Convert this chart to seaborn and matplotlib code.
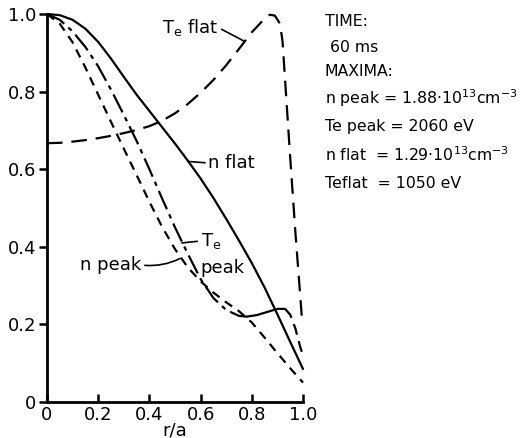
import numpy as np
import pandas as pd
import matplotlib
matplotlib.use("Agg")
import matplotlib.pyplot as plt
import seaborn as sns

# profile data (normalised to maxima)
r = [0.0, 0.05, 0.1, 0.15, 0.2, 0.25, 0.3, 0.35, 0.4, 0.45, 0.5,
     0.55, 0.6, 0.65, 0.7, 0.75, 0.8, 0.85, 0.9, 0.95, 1.0]
n_flat = [1.0, 0.997, 0.985, 0.962, 0.928, 0.885, 0.838, 0.792, 0.75, 0.708, 0.666,
          0.622, 0.576, 0.526, 0.472, 0.416, 0.358, 0.295, 0.226, 0.155, 0.085]
n_peak = [1.0, 0.975, 0.927, 0.862, 0.792, 0.722, 0.653, 0.585, 0.516, 0.451, 0.394,
          0.347, 0.311, 0.282, 0.257, 0.234, 0.205, 0.166, 0.126, 0.087, 0.05]

r_te_peak = [0.0, 0.05, 0.1, 0.15, 0.2, 0.25, 0.3, 0.35, 0.4, 0.45, 0.5, 0.55,
             0.6, 0.65, 0.7, 0.75, 0.78, 0.82, 0.86, 0.9, 0.93, 0.95, 0.97, 0.99, 1.0]
te_peak = [1.0, 0.985, 0.955, 0.915, 0.865, 0.805, 0.74, 0.673, 0.6, 0.524, 0.45, 0.382,
           0.317, 0.268, 0.237, 0.222, 0.22, 0.224, 0.232, 0.24, 0.24, 0.225, 0.19, 0.14, 0.12]

r_te_flat = [0.0, 0.05, 0.1, 0.15, 0.2, 0.25, 0.3, 0.35, 0.4, 0.45, 0.5, 0.55, 0.6,
             0.65, 0.7, 0.75, 0.8, 0.85, 0.87, 0.89, 0.91, 0.92, 0.95, 0.97, 0.996]
te_flat = [0.667, 0.668, 0.671, 0.675, 0.68, 0.686, 0.693, 0.701, 0.711, 0.725, 0.744, 0.768, 0.797,
           0.83, 0.868, 0.91, 0.953, 0.988, 0.998, 0.996, 0.975, 0.93, 0.63, 0.44, 0.214]

info_lines = ["TIME:", " 60 ms", "MAXIMA:",
              r"n peak = 1.88$\cdot$10$^{13}$cm$^{-3}$",
              "Te peak = 2060 eV",
              r"n flat  = 1.29$\cdot$10$^{13}$cm$^{-3}$",
              "Teflat  = 1050 eV"]

sns.set_style("ticks")
plt.rcParams['font.family'] = ['DejaVu Sans']
k = "black"
plt.rcParams.update({"text.color": k, "axes.labelcolor": k, "axes.edgecolor": k,
                     "xtick.color": k, "ytick.color": k})

W, H = 527, 438
fig = plt.figure(figsize=(W / 100, H / 100), dpi=100)
ax = fig.add_axes([47 / W, 1 - 402 / H, 256 / W, 388 / H])

sns.lineplot(x=r, y=n_flat, ax=ax, color=k, lw=1.6)
sns.lineplot(x=r, y=n_peak, ax=ax, color=k, lw=1.6, linestyle=(0, (4, 3)))

tp = pd.DataFrame({"r": r_te_peak, "v": te_peak})
sns.lineplot(data=tp[tp.r <= 0.78], x="r", y="v", ax=ax, color=k, lw=1.6,
             linestyle=(0, (9, 2.5, 2, 2.5)))
sns.lineplot(data=tp[(tp.r >= 0.78) & (tp.r <= 0.93)], x="r", y="v", ax=ax, color=k, lw=1.6)
sns.lineplot(data=tp[tp.r >= 0.93], x="r", y="v", ax=ax, color=k, lw=1.6,
             linestyle=(0, (5, 3)))

sns.lineplot(x=r_te_flat, y=te_flat, ax=ax, color=k, lw=1.6, linestyle=(0, (7, 4)))
for l in ax.lines:
    l.set_clip_on(False)

ax.set_xlim(0, 1.0)
ax.set_ylim(0, 1.0)
ax.set_xticks([0, 0.2, 0.4, 0.6, 0.8, 1.0])
ax.set_xticklabels(["0", "0.2", "0.4", "0.6", "0.8", "1.0"])
ax.set_yticks([0, 0.2, 0.4, 0.6, 0.8, 1.0])
ax.set_yticklabels(["0", "0.2", "0.4", "0.6", "0.8", "1.0"])
ax.tick_params(axis="x", direction="in", length=6, width=1.8, labelsize=13, pad=3)
ax.tick_params(axis="y", direction="out", length=6, width=1.8, labelsize=13, pad=2)
sns.despine(ax=ax)
for s in ["left", "bottom"]:
    ax.spines[s].set_linewidth(2)
    ax.spines[s].set_color(k)
ax.set_xlabel("r/a", fontsize=13, labelpad=-2)
ax.set_ylabel("")

lead = dict(arrowstyle="-", color=k, lw=1.2, shrinkA=0, shrinkB=0)
ax.annotate(r"T$_\mathregular{e}$ flat", xy=(0.77, 0.93), xytext=(0.45, 0.965),
            fontsize=13, va="center", ha="left",
            arrowprops=dict(lead, relpos=(1.0, 0.5)))
ax.annotate("n flat", xy=(0.55, 0.62), xytext=(0.63, 0.616),
            fontsize=13, va="center", ha="left",
            arrowprops=dict(lead, relpos=(0.0, 0.5)))
ax.annotate(r"T$_\mathregular{e}$", xy=(0.527, 0.41), xytext=(0.6, 0.415),
            fontsize=13, va="center", ha="left",
            arrowprops=dict(lead, relpos=(0.0, 0.5)))
ax.text(0.6, 0.345, "peak", fontsize=13, va="center", ha="left")
ax.annotate("n peak", xy=(0.52, 0.37), xytext=(0.13, 0.353),
            fontsize=13, va="center", ha="left",
            arrowprops=dict(lead, relpos=(1.0, 0.5), connectionstyle="arc3,rad=0.15"))

ys = [22, 47, 72, 98, 127, 155, 183]
for txt, y in zip(info_lines, ys):
    fig.text(325 / W, 1 - y / H, txt, fontsize=11.3, va="center", ha="left")

fig.savefig("out.png", dpi=100)
